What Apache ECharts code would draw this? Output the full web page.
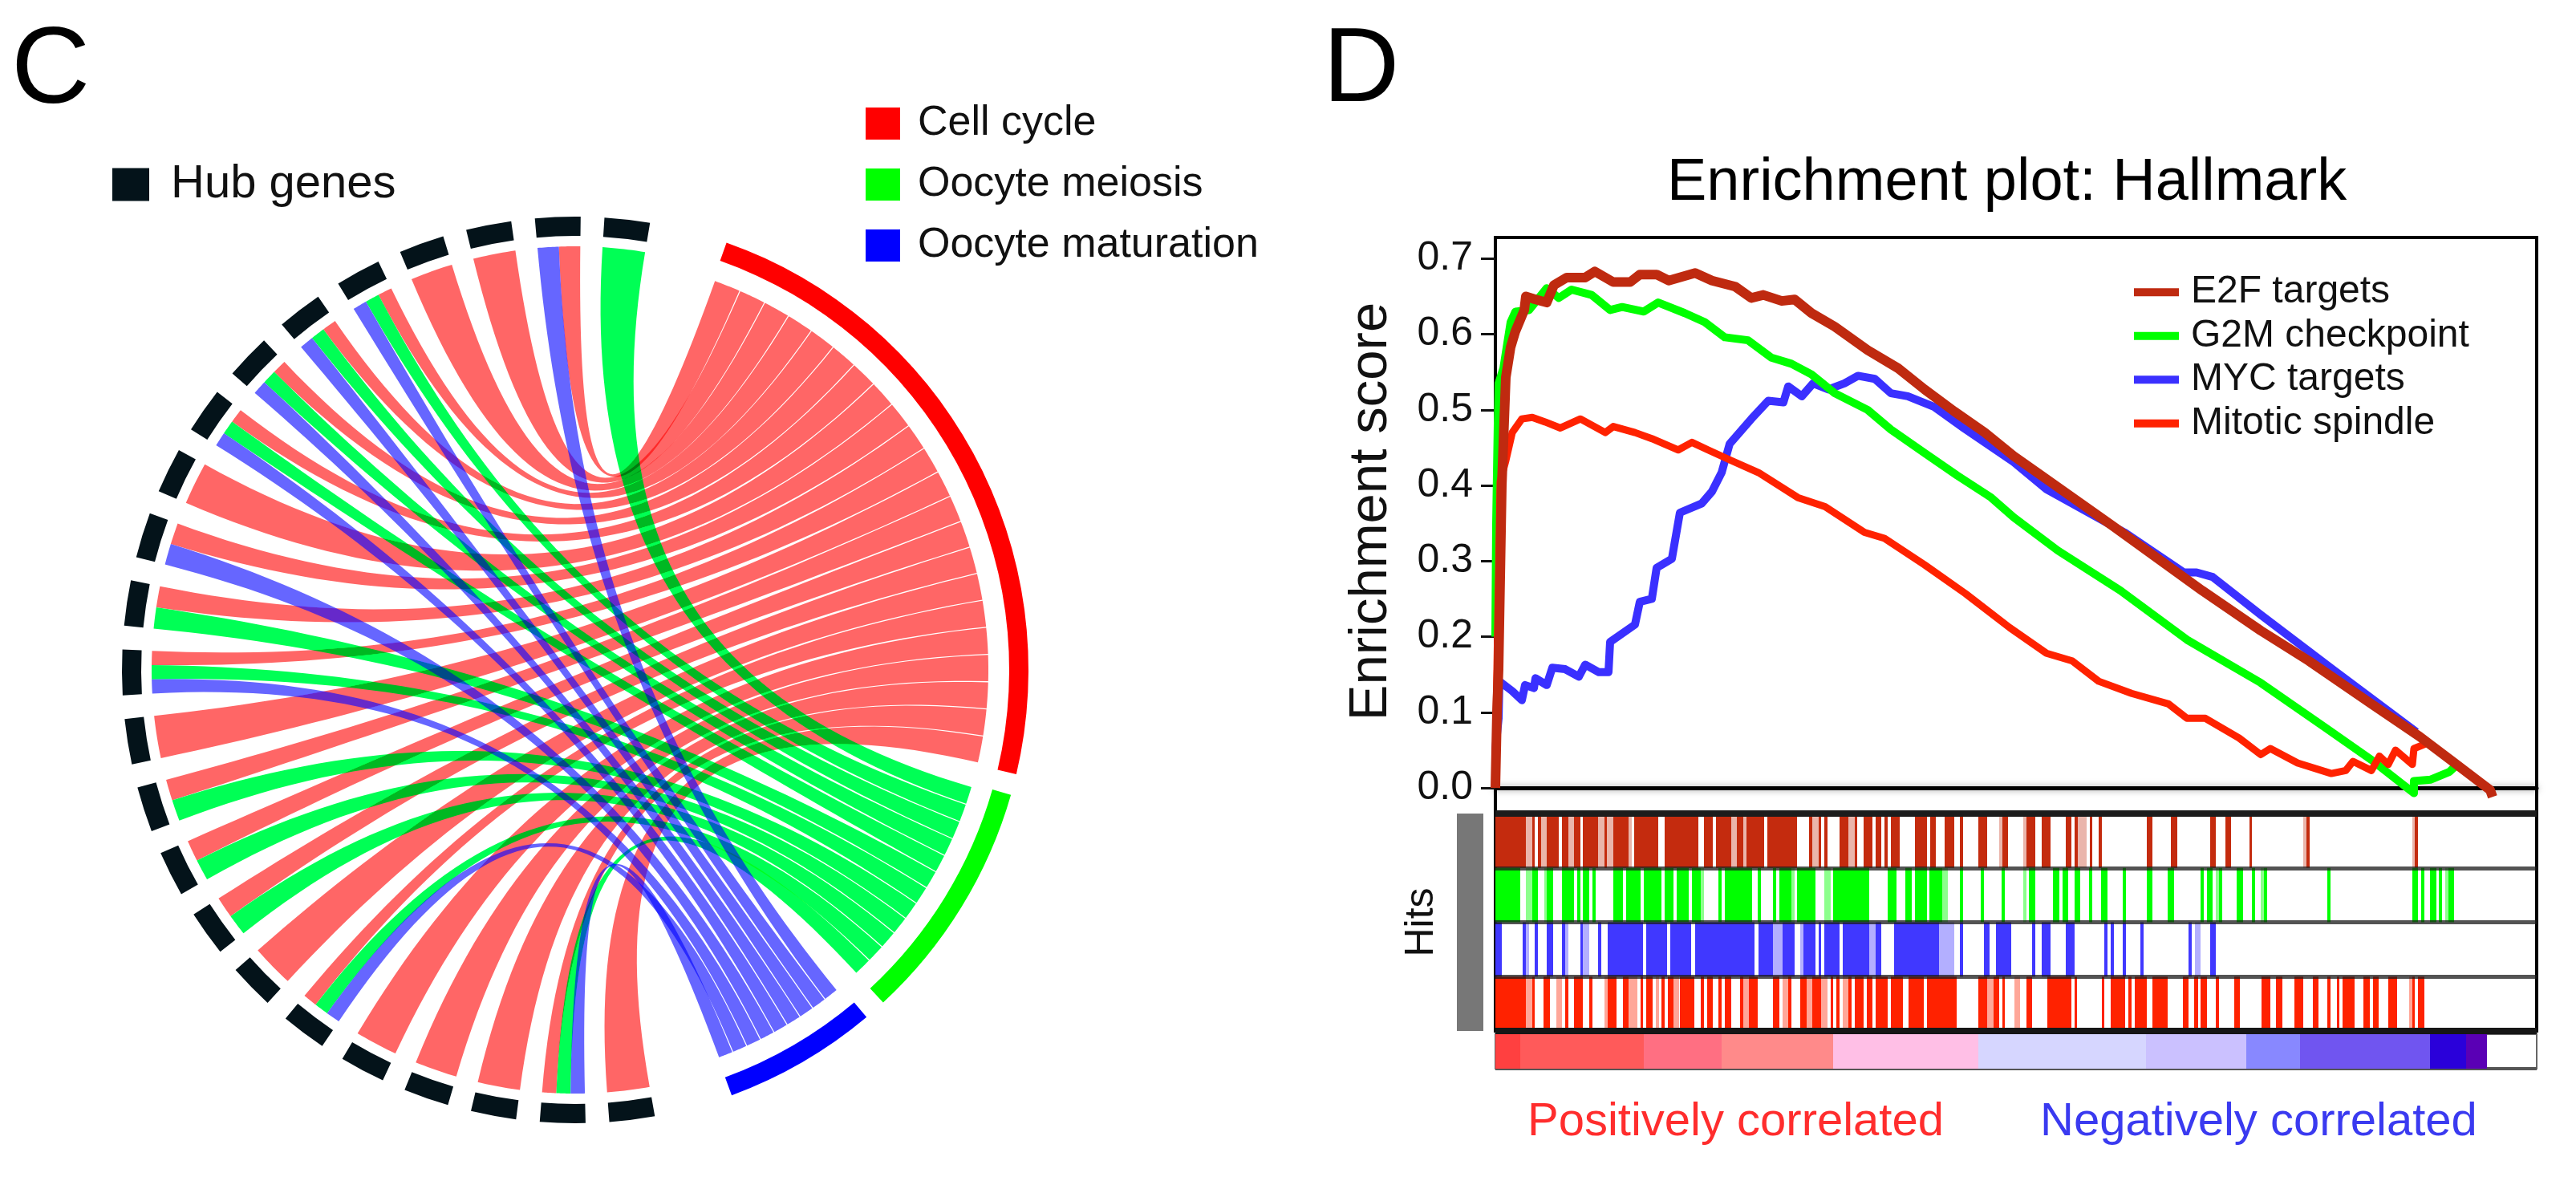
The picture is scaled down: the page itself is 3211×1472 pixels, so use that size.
<!DOCTYPE html>
<html><head><meta charset="utf-8">
<script src="https://cdn.jsdelivr.net/npm/echarts@6/dist/echarts.min.js"></script>
<style>html,body{margin:0;padding:0;background:#fff}#c{width:3211px;height:1472px}</style>
</head><body><div id="c"></div>
<script>
// ---------- Panel C data: hub gene indices (0 = next to the pathways, counter-clockwise) ----------
const hubGeneCount = 23;
const cellCycleGenes = [1,2,3,4,5,6,7,8,9,10,11,12,13,14,15,16,17,18,19,20,21,22];
const oocyteMeiosisGenes = [0,4,5,6,7,10,11,13,14,15,17,21];
const oocyteMaturationGenes = [1,4,5,6,7,9,11,17,21];

// ---------- Panel D data: [rank, enrichment score] ----------
const e2fTargets = [[0,0],[2,.1],[4,.157],[8,.40],[13,.543],[19,.583],[25,.604],[36,.632],[38,.650],[50,.646],[64,.642],[73,.665],[89,.675],[112,.675],[124,.683],[147,.669],[168,.669],[180,.679],[201,.679],[216,.671],[249,.681],[270,.671],[299,.663],[319,.648],[334,.652],[357,.644],[373,.646],[394,.628],[423,.610],[464,.579],[502,.555],[535,.527],[572,.498],[610,.470],[646,.439],[678,.415],[770,.346],[881,.261],[954,.208],[1014,.168],[1092,.111],[1152,.068],[1198,.031],[1240,-.003],[1243,-.012]];
const g2mCheckpoint = [[0,.2],[1,.35],[3,.482],[4,.535],[10,.555],[19,.616],[25,.630],[42,.632],[64,.661],[79,.648],[95,.659],[120,.652],[143,.632],[158,.636],[185,.630],[203,.642],[236,.628],[261,.616],[286,.596],[315,.592],[344,.569],[369,.561],[394,.547],[423,.522],[464,.500],[493,.474],[535,.443],[576,.413],[618,.384],[646,.358],[701,.314],[779,.261],[862,.196],[954,.139],[1037,.078],[1092,.037],[1145,-.007],[1145,.009],[1166,.011],[1189,.021],[1198,.030]];
const mycTargets = [[0,.05],[4,.092],[5,.141],[21,.128],[33,.116],[37,.136],[48,.132],[50,.145],[64,.136],[71,.159],[87,.157],[104,.147],[112,.163],[129,.153],[141,.153],[143,.193],[174,.216],[180,.246],[195,.250],[201,.291],[220,.303],[230,.364],[257,.376],[270,.392],[282,.417],[292,.455],[319,.488],[340,.512],[359,.510],[365,.531],[382,.518],[396,.535],[415,.527],[435,.535],[452,.545],[473,.541],[493,.522],[514,.518],[547,.504],[585,.475],[646,.431],[687,.395],[784,.338],[858,.285],[874,.285],[894,.279],[954,.229],[1046,.155],[1148,.074]];
const mitoticSpindle = [[0,.03],[2,.157],[6,.405],[13,.433],[21,.470],[33,.488],[46,.490],[62,.484],[81,.476],[106,.488],[137,.470],[147,.478],[174,.470],[195,.462],[228,.447],[245,.457],[265,.447],[294,.433],[328,.417],[377,.384],[411,.372],[460,.338],[485,.330],[535,.295],[586,.257],[641,.212],[687,.178],[719,.168],[752,.141],[793,.125],[839,.111],[862,.092],[885,.092],[927,.066],[954,.044],[966,.052],[1000,.033],[1042,.019],[1060,.023],[1069,.035],[1092,.023],[1102,.042],[1113,.031],[1122,.050],[1143,.031],[1145,.052],[1159,.058]];
const scoreTicks = [0,.1,.2,.3,.4,.5,.6,.7];

// Hit blocks in rank units: [first rank, last rank]; "faint" blocks are the washed-out hits.
const e2fHits = [[0,38],[46,49],[53,57],[64,79],[83,91],[98,106],[109,128],[136,139],[147,166],[173,203],[211,253],[260,271],[275,294],[301,309],[313,335],[339,376],[391,395],[403,406],[410,414],[429,440],[448,451],[459,470],[474,481],[485,489],[493,504],[523,538],[542,549],[560,572],[579,583],[602,613],[632,639],[662,673],[681,692],[711,718],[722,726],[741,744],[752,756],[812,819],[842,850],[891,898],[910,917],[940,943],[1011,1015],[1146,1150]];
const e2fFaint = [[38,46],[57,64],[91,98],[128,136],[139,147],[166,170],[294,301],[309,313],[395,403],[440,448],[628,632],[658,662],[726,737],[1007,1011],[1143,1146]];
const g2mHits = [[0,31],[46,53],[64,72],[83,98],[102,106],[109,117],[121,125],[147,159],[163,181],[185,207],[211,222],[226,241],[245,256],[278,282],[286,320],[327,331],[346,350],[354,369],[376,399],[421,466],[489,500],[511,519],[523,538],[541,557],[579,583],[605,609],[631,635],[665,673],[695,703],[707,714],[722,729],[740,744],[755,763],[782,786],[812,819],[838,846],[879,883],[887,894],[902,906],[924,932],[943,947],[958,962],[1037,1041],[1143,1150],[1154,1158],[1165,1173],[1176,1180],[1188,1195]];
const g2mFaint = [[38,46],[61,64],[256,260],[410,418],[369,373],[557,564],[658,662],[898,902],[954,958],[1184,1188]];
const mycHits = [[0,8],[34,38],[49,53],[64,72],[83,87],[106,109],[128,132],[140,184],[188,214],[218,244],[249,323],[328,346],[358,373],[384,399],[403,406],[410,429],[433,466],[474,481],[497,553],[579,583],[609,616],[624,643],[669,673],[681,692],[711,722],[759,763],[767,771],[782,786],[804,808],[864,868],[891,898]];
const mycFaint = [[38,42],[87,91],[109,117],[346,358],[380,384],[466,474],[553,557],[557,564],[564,572],[872,879]];
const spindleHits = [[0,38],[46,49],[60,68],[87,91],[98,109],[117,121],[140,151],[159,166],[181,184],[188,196],[207,211],[215,222],[230,248],[256,260],[264,271],[278,282],[286,294],[305,309],[316,327],[346,354],[365,369],[380,388],[395,406],[418,421],[425,429],[440,444],[448,459],[463,470],[474,489],[493,508],[515,534],[538,575],[602,613],[621,628],[632,635],[662,669],[688,707],[707,718],[722,725],[756,759],[767,785],[789,793],[797,812],[819,838],[857,864],[871,876],[879,887],[898,902],[921,928],[955,966],[973,981],[996,1007],[1019,1026],[1037,1041],[1049,1052],[1056,1071],[1082,1090],[1094,1101],[1113,1124],[1143,1146],[1150,1158]];
const spindleFaint = [[38,46],[76,83],[136,140],[166,177],[200,204],[222,229],[309,316],[358,365],[388,395],[406,414],[433,440],[613,621],[647,654],[1139,1143]];

// Ranking-metric colour bar: [first rank, last rank, colour]
const metricBar = [[0,31,'#ff4040'],[31,185,'#ff5a5a'],[185,282,'#ff6f82'],[282,421,'#ff8a8a'],[421,602,'#ffbfe6'],[602,811,'#d6d6ff'],[811,936,'#cbc1ff'],[936,1003,'#8888ff'],[1003,1165,'#7055f0'],[1165,1210,'#2a00da'],[1210,1236,'#5a00b5']];

// ---------- layout constants ----------
const FONT = '"Liberation Sans", Arial, sans-serif';
const RANK_MAX = 1298;
const CHORD = {cx:717, cy:835, outer:565, ringInner:541, geneR:528, pathR:515, ctrl:0.69, seam:0.07,
  geneStart:6.6, geneStep:8.81, geneWidth:5.8};
const PATHWAYS = [
  {name:'Cell cycle', genes:cellCycleGenes, color:'#ff0000', ribbon:'#ff6666', a0:19.7, a1:103, ringA0:19.5, ringA1:103.3},
  {name:'Oocyte meiosis', genes:oocyteMeiosisGenes, color:'#00ff00', ribbon:'#00ff55', add:'#005200', a0:106.4, a1:137.2, ringA0:106, ringA1:137.2},
  {name:'Oocyte maturation', genes:oocyteMaturationGenes, color:'#0000ff', ribbon:'#6666ff', add:'#000064', a0:140.7, a1:159.7, ringA0:140, ringA1:159.8}
];
const mod360 = a => ((a % 360) + 360) % 360;
const geneCenter = g => 360 + CHORD.geneStart - CHORD.geneStep * g;
// clockwise order inside one gene sector: maturation, meiosis, cell cycle
function geneSlot(g, pIdx){
  const order = [2,1,0].filter(p => PATHWAYS[p].genes.includes(g));
  const w = CHORD.geneWidth / order.length, s = geneCenter(g) - CHORD.geneWidth/2 + order.indexOf(pIdx)*w;
  return [s, s+w];
}
function sectorItem(api, a0, a1, fill){
  const c = api.coord([0,0]);
  const rad = a => (a-90)*Math.PI/180;
  return {type:'sector', shape:{cx:c[0], cy:c[1], r:CHORD.outer, r0:CHORD.ringInner, startAngle:rad(a0), endAngle:rad(a1), clockwise:true}, style:{fill}};
}
function ribbonRender(pIdx, fill){
  const P = PATHWAYS[pIdx], n = P.genes.length;
  return function(params, api){
    const g = api.value(0), i = api.value(1);
    const w = (P.a1-P.a0)/n, t0 = P.a0 + i*w + CHORD.seam, t1 = P.a0 + (i+1)*w - CHORD.seam;
    const [f0,f1] = geneSlot(g,pIdx);
    const c = api.coord([0,0]);
    const pt = (r,a) => api.coord([r, mod360(a)]);
    const pts = [];
    const arc = (r,a,b) => { for(let k=0;k<=10;k++) pts.push(pt(r,a+(b-a)*k/10)); };
    const bez = (p0,p3) => {
      const q = CHORD.ctrl;
      const c1=[p0[0]+(c[0]-p0[0])*q,p0[1]+(c[1]-p0[1])*q], c2=[p3[0]+(c[0]-p3[0])*q,p3[1]+(c[1]-p3[1])*q];
      for(let k=1;k<50;k++){ const u=k/50,v=1-u;
        pts.push([v*v*v*p0[0]+3*v*v*u*c1[0]+3*v*u*u*c2[0]+u*u*u*p3[0], v*v*v*p0[1]+3*v*v*u*c1[1]+3*v*u*u*c2[1]+u*u*u*p3[1]]); }
    };
    arc(CHORD.pathR,t0,t1);
    bez(pt(CHORD.pathR,t1),pt(CHORD.geneR,f0));
    arc(CHORD.geneR,f0,f1);
    bez(pt(CHORD.geneR,f1),pt(CHORD.pathR,t0));
    return {type:'polygon', shape:{points:pts}, style:{fill}};
  };
}
const ribbonSeries = [];
PATHWAYS.forEach((P,pIdx)=>{
  const data = P.genes.map((g,i)=>[g,i]);
  ribbonSeries.push({type:'custom', name:P.name, coordinateSystem:'polar', itemStyle:{color:P.color}, data, z:2, silent:true,
    blendMode:'multiply', renderItem:ribbonRender(pIdx,P.ribbon)});
  if(P.add) ribbonSeries.push({type:'custom', name:P.name+' overlap', coordinateSystem:'polar', data, z:2, silent:true,
    blendMode:'lighter', renderItem:ribbonRender(pIdx,P.add)});
});
const hubSeries = {type:'custom', name:'Hub genes', coordinateSystem:'polar', itemStyle:{color:'#04131a'}, z:3, silent:true,
  data:Array.from({length:hubGeneCount},(_,g)=>[g,0]),
  renderItem:(params,api)=>{ const m=geneCenter(api.value(0)); return sectorItem(api,m-CHORD.geneWidth/2,m+CHORD.geneWidth/2,'#04131a'); }};
const ringSeries = {type:'custom', name:'Pathway arcs', coordinateSystem:'polar', z:3, silent:true,
  data:PATHWAYS.map((P,i)=>[i,0]),
  renderItem:(params,api)=>{ const P=PATHWAYS[api.value(0)]; return sectorItem(api,P.ringA0,P.ringA1,P.color); }};

function hitSeries(name,blocks,row,color,opacity){
  return {type:'custom', name, xAxisIndex:1, yAxisIndex:1, z:2, silent:true, data:blocks.map(b=>[b[0],b[1],row]),
    encode:{x:[0,1],y:2},
    renderItem:(params,api)=>{
      const a=api.coord([api.value(0),api.value(2)]), b=api.coord([api.value(1),api.value(2)+1]);
      return {type:'rect', shape:{x:a[0],y:a[1],width:b[0]-a[0],height:b[1]-a[1]}, style:{fill:color,opacity}};
    }};
}
const HITCOL = ['#c42b0e','#00ff00','#4038ff','#ff2200'];
const hits = [
  hitSeries('E2F hits faint',e2fFaint,0,HITCOL[0],.35), hitSeries('E2F hits',e2fHits,0,HITCOL[0],1),
  hitSeries('G2M hits faint',g2mFaint,1,HITCOL[1],.45), hitSeries('G2M hits',g2mHits,1,HITCOL[1],1),
  hitSeries('MYC hits faint',mycFaint,2,HITCOL[2],.4), hitSeries('MYC hits',mycHits,2,HITCOL[2],1),
  hitSeries('Spindle hits faint',spindleFaint,3,HITCOL[3],.4), hitSeries('Spindle hits',spindleHits,3,HITCOL[3],1)
];
const metricSeries = {type:'custom', name:'Ranking metric', xAxisIndex:3, yAxisIndex:2, z:2, silent:true,
  data:metricBar.map(s=>[s[0],s[1]]), encode:{x:[0,1]},
  renderItem:(params,api)=>{
    const a=api.coord([api.value(0),1]), b=api.coord([api.value(1),0]);
    return {type:'rect', shape:{x:a[0],y:a[1],width:b[0]-a[0],height:b[1]-a[1]}, style:{fill:metricBar[params.dataIndex][2]}};
  }};
const curve = (name,data,color,width,z)=>({type:'line', name, data, xAxisIndex:0, yAxisIndex:0, symbol:'none', z, silent:true, clip:false,
  lineStyle:{color,width,join:'round'}, itemStyle:{color}});

const hiddenX = (gridIndex,extra)=>Object.assign({type:'value',gridIndex,min:0,max:RANK_MAX,axisLabel:{show:false},axisTick:{show:false},splitLine:{show:false}},extra);
const title = (text,left,top,fontSize,color,extra)=>Object.assign({text,left,top,padding:0,textStyle:{fontFamily:FONT,fontSize,fontWeight:'normal',color}},extra);

const chart = echarts.init(document.getElementById('c'),null,{renderer:'canvas'});
chart.setOption({
  animation:false, backgroundColor:'#ffffff',
  title:[
    title('C',14,22,136,'#000'),
    title('D',1649,24,132,'#000'),
    title('Enrichment plot: Hallmark',2078,192,74,'#000'),
    title('Positively correlated',1904,1370,58,'#ff2d2d'),
    title('Negatively correlated',2543,1370,58,'#3a3af0')
  ],
  legend:[
    {data:PATHWAYS.map(p=>p.name),orient:'vertical',left:1074,top:111,itemWidth:43,itemHeight:40,itemGap:0,icon:'rect',selectedMode:false,
      textStyle:{fontFamily:FONT,fontSize:52,color:'#111',lineHeight:76,padding:[0,0,0,17]}},
    {data:['Hub genes'],left:135,top:195,itemWidth:46,itemHeight:41,icon:'rect',selectedMode:false,
      textStyle:{fontFamily:FONT,fontSize:58,color:'#111',lineHeight:60,padding:[0,0,0,22]}},
    {data:['E2F targets','G2M checkpoint','MYC targets','Mitotic spindle'],orient:'vertical',left:2655,top:332,itemWidth:56,itemHeight:10,itemGap:0,icon:'rect',selectedMode:false,
      textStyle:{fontFamily:FONT,fontSize:48,color:'#111',lineHeight:54.5,padding:[0,0,0,10]}}
  ],
  polar:{center:[CHORD.cx,CHORD.cy],radius:CHORD.outer},
  angleAxis:{type:'value',min:0,max:360,startAngle:90,clockwise:true,show:false},
  radiusAxis:{type:'value',min:0,max:CHORD.outer,show:false},
  grid:[
    {left:1864,top:296,width:1298,height:719,show:true,borderColor:'#000',borderWidth:4,backgroundColor:'transparent'},
    {left:1864,top:1014,width:1298,height:271,show:true,borderColor:'#000',borderWidth:4,backgroundColor:'transparent'},
    {left:1864,top:1289,width:1298,height:43,show:true,borderColor:'#666',borderWidth:2,backgroundColor:'transparent'}
  ],
  xAxis:[
    hiddenX(0,{axisLine:{show:true,onZero:true,lineStyle:{color:'#000',width:5,shadowColor:'rgba(0,0,0,.35)',shadowBlur:9}}}),
    hiddenX(1,{position:'bottom',z:10,axisLine:{show:true,onZero:false,lineStyle:{color:'#161616',width:8,cap:'butt'}}}),
    hiddenX(1,{position:'top',z:10,axisLine:{show:true,onZero:false,lineStyle:{color:'#1c1c1c',width:8,cap:'butt'}}}),
    hiddenX(2,{position:'bottom',axisLine:{show:true,onZero:false,lineStyle:{color:'#555',width:4,cap:'butt'}}})
  ],
  yAxis:[
    {type:'value',gridIndex:0,min:-.035,max:.728,
      name:'Enrichment score',nameLocation:'middle',nameRotate:90,nameGap:121,nameTextStyle:{fontFamily:FONT,fontSize:67,color:'#111',padding:[0,0,0,36]},
      axisLine:{show:true,onZero:false,lineStyle:{color:'#000',width:4,cap:'butt'}},
      axisTick:{show:true,length:18,lineStyle:{color:'#111',width:3},customValues:scoreTicks},
      axisLabel:{show:true,margin:28,fontFamily:FONT,fontSize:50,color:'#111',customValues:scoreTicks,formatter:v=>v.toFixed(1)},
      splitLine:{show:false}},
    {type:'value',gridIndex:1,min:0,max:4,interval:1,inverse:true,z:10,offset:32,
      name:'Hits',nameLocation:'middle',nameRotate:90,nameGap:35,nameTextStyle:{fontFamily:FONT,fontSize:50,color:'#111'},
      axisLine:{show:true,onZero:false,lineStyle:{color:'#777',width:33,cap:'butt'}},axisTick:{show:false},axisLabel:{show:false},
      splitLine:{show:true,lineStyle:{color:'rgba(25,25,25,.75)',width:5}}},
    {type:'value',gridIndex:2,min:0,max:1,show:false}
  ],
  series:[
    ...ribbonSeries, hubSeries, ringSeries, ...hits, metricSeries,
    curve('MYC targets',mycTargets,'#3a30ff',10,5),
    curve('G2M checkpoint',g2mCheckpoint,'#00ff00',10,6),
    curve('Mitotic spindle',mitoticSpindle,'#ff2200',9,7),
    curve('E2F targets',e2fTargets,'#bf2a10',12,8)
  ]
});
</script></body></html>
